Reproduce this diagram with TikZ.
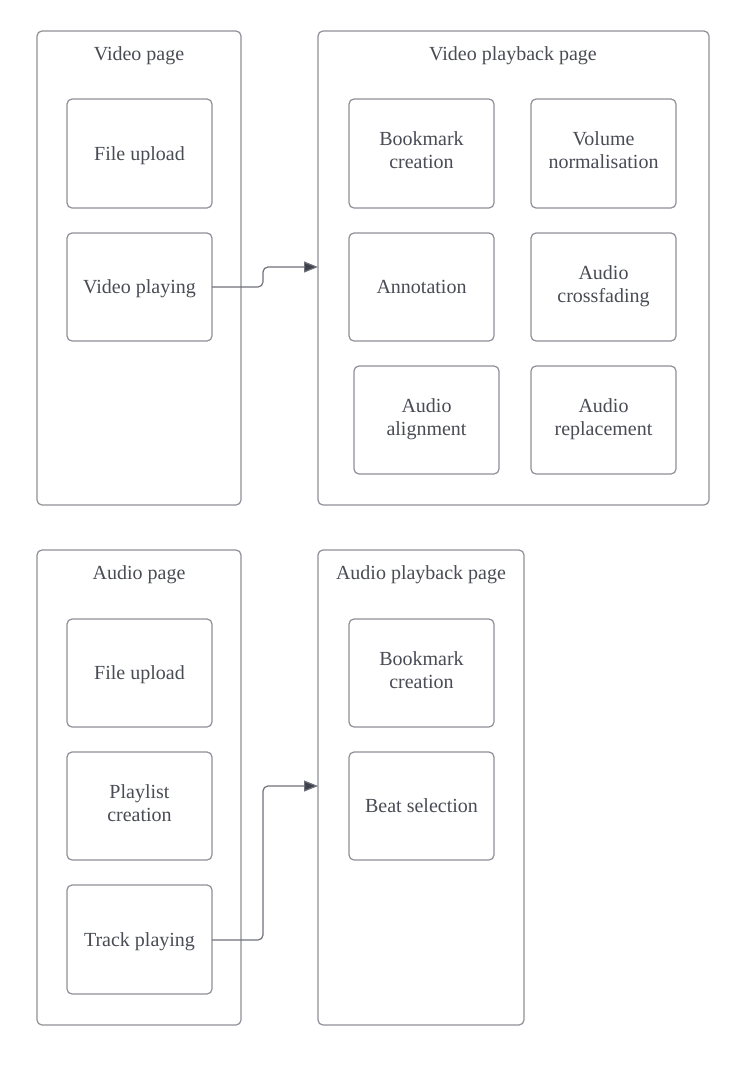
\documentclass[tikz,border=0pt]{standalone}
\usepackage{fontspec}
\setmainfont{Liberation Serif}
\usetikzlibrary{arrows.meta}
\definecolor{linec}{HTML}{8E9097}
\definecolor{textc}{HTML}{4A4C55}
\definecolor{arrc}{HTML}{3F424C}
\begin{document}
\begin{tikzpicture}[x=1pt,y=-1pt,
  pagebox/.style={draw=linec,line width=1.2pt,rounded corners=5pt},
  featbox/.style={draw=linec,line width=1.2pt,rounded corners=5pt,fill=white},
  lbl/.style={text=textc,font=\fontsize{20}{23}\selectfont,align=center,inner sep=0pt,anchor=base},
  conn/.style={draw=arrc!75,line width=1.2pt,rounded corners=5pt,-{Triangle[length=14pt,width=11pt,fill=arrc]}}]
\useasboundingbox (0,0) rectangle (738,1066);
% Video page
\draw[pagebox] (37,31) rectangle (241,505);
\node[lbl] (vpt) at (139,60.7) {Video page};
\draw[featbox] (67,99) rectangle (212,208);
\node[lbl] (vfu) at (139.5,160) {File upload};
\draw[featbox] (67,233) rectangle (212,341);
\coordinate (vpR) at (212,287);
\node[lbl] (vpl) at (139.5,293.5) {Video playing};
% Video playback page
\draw[pagebox] (318,31) rectangle (709,505);
\node[lbl] (vpbt) at (513,60.7) {Video playback page};
\draw[featbox] (349,99) rectangle (494,208);
\node[lbl] (vbc) at (421.5,168.8) {Bookmark\\creation};
\draw[featbox] (531,99) rectangle (676,208);
\node[lbl] (vvn) at (603.5,168.8) {Volume\\normalisation};
\draw[featbox] (349,233) rectangle (494,341);
\node[lbl] (van) at (421.5,293.5) {Annotation};
\draw[featbox] (531,233) rectangle (676,341);
\node[lbl] (vac) at (603.5,302) {Audio\\crossfading};
\draw[featbox] (354,366) rectangle (499,474);
\node[lbl] (vaa) at (426.5,435) {Audio\\alignment};
\draw[featbox] (531,366) rectangle (676,474);
\node[lbl] (var) at (603.5,435) {Audio\\replacement};
\coordinate (vpbL) at (318,267);
% Audio page
\draw[pagebox] (37,550) rectangle (241,1025);
\node[lbl] (apt) at (139,579.7) {Audio page};
\draw[featbox] (67,619) rectangle (212,727);
\node[lbl] (afu) at (139.5,679.5) {File upload};
\draw[featbox] (67,752) rectangle (212,860);
\node[lbl] (apc) at (139.5,821) {Playlist\\creation};
\draw[featbox] (67,885) rectangle (212,994);
\node[lbl] (atp) at (139.5,946) {Track playing};
\coordinate (tpR) at (212,940);
% Audio playback page
\draw[pagebox] (318,550) rectangle (524,1025);
\node[lbl] (apbt) at (421,579.7) {Audio playback page};
\draw[featbox] (349,619) rectangle (494,727);
\node[lbl] (abc) at (421.5,688) {Bookmark\\creation};
\draw[featbox] (349,752) rectangle (494,860);
\node[lbl] (abs) at (421.5,812.5) {Beat selection};
\coordinate (apbL) at (318,786);
% connectors
\draw[conn] (vpR) -- (263,287) -- (263,267) -- (vpbL);
\draw[conn] (tpR) -- (263,940) -- (263,786) -- (apbL);
\end{tikzpicture}
\end{document}
